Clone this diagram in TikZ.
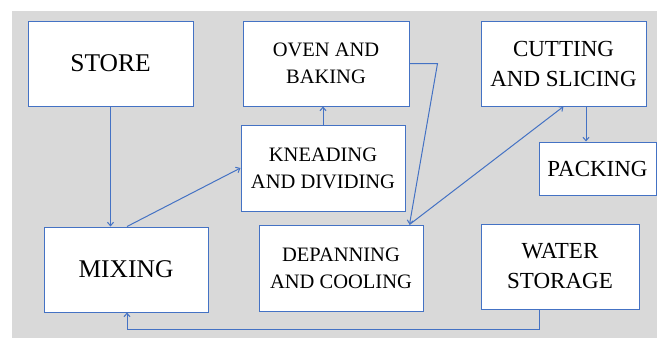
\documentclass[tikz,border=0pt]{standalone}
\usepackage{fontspec}
\setmainfont{Liberation Serif}
\usetikzlibrary{arrows.meta,calc,positioning}
\definecolor{lineblue}{HTML}{4472C4}
\definecolor{bggray}{HTML}{D9D9D9}

\begin{document}
\begin{tikzpicture}
	[x=1pt,y=-1pt,line width=1pt,
	box/.style={shape=rectangle,draw=lineblue,fill=white,align=center,inner sep=0pt},
	big/.style={font=\fontsize{25.5}{30}\selectfont},
	mid/.style={font=\fontsize{23}{30}\selectfont},
	small/.style={font=\fontsize{20.5}{27}\selectfont},
	flow/.style={draw=lineblue,-{Straight Barb[length=3.5pt,width=6pt]}}]
	\useasboundingbox (0,0) rectangle (660,338);
	\fill[bggray] (12,11) rectangle (657,338);

	\node[box,big,minimum width=165pt,minimum height=85pt] (store) at (110.5,63.5) {STORE};
	\node[box,small,minimum width=166pt,minimum height=85pt] (oven) at (326,63.5) {OVEN AND\\BAKING};
	\node[box,mid,minimum width=165pt,minimum height=85pt] (cut) at (563.5,63.5) {CUTTING\\AND SLICING};
	\node[box,small,minimum width=164pt,minimum height=86pt] (knead) at (323,168) {KNEADING\\AND DIVIDING};
	\node[box,mid,minimum width=117pt,minimum height=53pt] (pack) at (597.5,168.5) {PACKING};
	\node[box,big,minimum width=164pt,minimum height=85pt] (mix) at (126,269.5) {MIXING};
	\node[box,small,minimum width=164pt,minimum height=86pt] (depan) at (341,268) {DEPANNING\\AND COOLING};
	\node[box,mid,minimum width=158pt,minimum height=85pt] (water) at (560,266.5) {WATER\\STORAGE};

	\coordinate (dtop) at ([xshift=-14pt]depan.north east);
	\coordinate (ctop) at ([xshift=22.5pt]cut.south);
	\coordinate (wbot) at ([xshift=-21pt]water.south);

	\draw[flow] (store.south) -- (store.south |- mix.north);
	\draw[flow] ([xshift=1pt]mix.north) -- (knead.west);
	\draw[flow] (knead.north) -- (knead.north |- oven.south);
	\draw[flow] (oven.east) -- ++(28,0) -- (dtop);
	\draw[flow] (dtop) -- (cut.south);
	\draw[flow] (ctop) -- (ctop |- pack.north);
	\draw[flow] (wbot) -- ++(0,19.5) -| ([xshift=1pt]mix.south);
\end{tikzpicture}
\end{document}
